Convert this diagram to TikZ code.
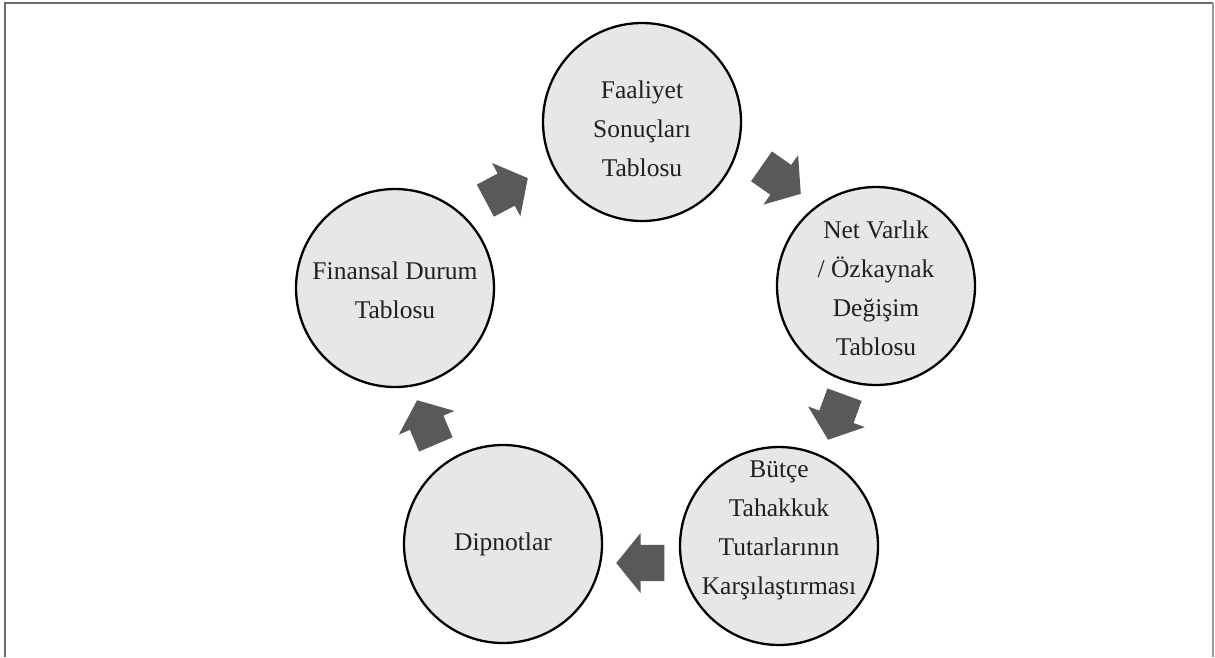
\documentclass[tikz,border=0pt]{standalone}
\usepackage{fontspec}
\setmainfont{Liberation Serif}
\usetikzlibrary{shapes.arrows}
\definecolor{circfill}{HTML}{E6E7E8}
\definecolor{arrfill}{HTML}{58595B}
\definecolor{framedark}{HTML}{6A6A6A}
\definecolor{framelight}{HTML}{9A9A9A}
\definecolor{txtcol}{HTML}{231F20}
\tikzset{
  circ/.style={circle, draw=black, line width=2.3pt, fill=circfill, minimum size=198pt, inner sep=0pt},
  txt/.style={align=center, font=\fontsize{25.5}{39}\selectfont, text=txtcol, inner sep=0pt},
  blockarrow/.style={single arrow, fill=arrfill, draw=none, inner xsep=0pt, inner ysep=18pt,
    minimum height=48pt, minimum width=60pt, single arrow head extend=12pt,
    single arrow tip angle=102, anchor=tip}
}
\begin{document}
\begin{tikzpicture}[x=1pt,y=-1pt]
\useasboundingbox (0,0) rectangle (1215,657);
% frame
\draw[framedark, line width=2.2pt] (5,657) -- (5,3) -- (1213,3);
\draw[framelight, line width=2pt] (1213,3) -- (1213,657);
% circles
\node[circ] (fa) at (642,122) {};
\node[circ] (nv) at (876,286) {};
\node[circ] (bt) at (779,546) {};
\node[circ] (dp) at (503,544) {};
\node[circ] (fd) at (395,288) {};
% texts
\node[txt] (tfa) at (642,129) {Faaliyet\\Sonuçları\\Tablosu};
\node[txt] (tnv) at (876,288) {Net Varlık\\/ Özkaynak\\Değişim\\Tablosu};
\node[txt] (tbt) at (779,530) {Bütçe\\Tahakkuk\\Tutarlarının\\Karşılaştırması};
\node[txt] (tdp) at (503,544) {Dipnotlar};
\node[txt] (tfd) at (395,290) {Finansal Durum\\Tablosu};
% block arrows
\node[blockarrow, rotate=28] (a1) at (528,178) {};
\node[blockarrow, rotate=-35] (a2) at (801,194) {};
\node[blockarrow, rotate=-110] (a3) at (828,440) {};
\node[blockarrow, rotate=180] (a4) at (616,563) {};
\node[blockarrow, rotate=113] (a5) at (417,400) {};
\end{tikzpicture}
\end{document}
